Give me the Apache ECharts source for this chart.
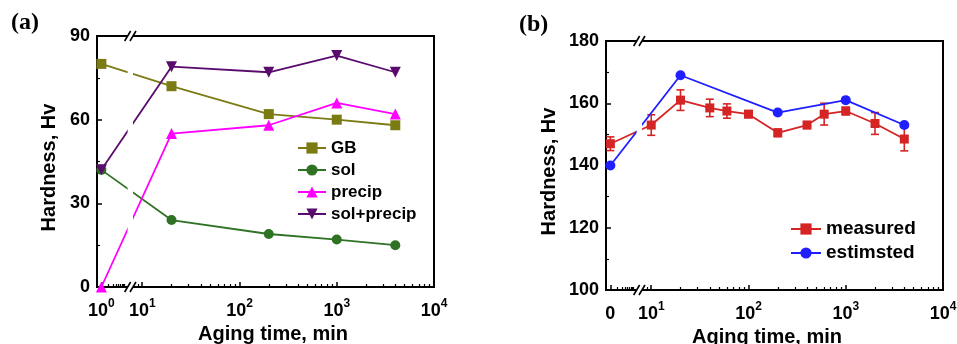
<!DOCTYPE html>
<html>
<head>
<meta charset="utf-8">
<script src="https://cdn.jsdelivr.net/npm/echarts@6/dist/echarts.min.js"></script>
<style>
  html, body { margin: 0; padding: 0; background: #fff; }
  #chart { width: 957px; height: 344px; }
</style>
</head>
<body>
<div id="chart"></div>
<script>
// ---- Panel (a): hardness contributions vs. aging time ----
const timesA = [1, 20, 200, 1000, 4000];
const gbA = [80, 72, 62, 60, 58];
const solA = [42, 24, 19, 17, 15];
const precipA = [0, 55, 58, 66, 62];
const solPrecipA = [42, 79, 77, 83, 77];

// ---- Panel (b): measured vs. estimated hardness ----
const timesMeasured = [0, 10, 20, 40, 60, 100, 200, 400, 600, 1000, 2000, 4000];
const measured = [147, 153, 161, 158.5, 157.5, 156.5, 150.5, 153, 156.5, 157.5, 153.5, 148.5];
const measuredErr = [2.2, 3.3, 3.3, 2.8, 2.3, 1.1, 1.2, 1.1, 3.5, 1.2, 3.5, 3.8];
const timesEstimated = [0, 20, 200, 1000, 4000];
const estimated = [140, 169, 157, 161, 153];

// ---- Tick labels ----
const xTickTimesA = [1, 10, 100, 1000, 10000];
const xTickLabelsA = ['10^0', '10^1', '10^2', '10^3', '10^4'];
const xTickTimesB = [0, 10, 100, 1000, 10000];
const xTickLabelsB = ['0', '10^1', '10^2', '10^3', '10^4'];

// ---- Broken log axis: a compressed first segment, then a regular log scale ----
const BREAK_AT = 8;          // times below this sit on the compressed left segment
const U_MIN = 0.535, U_MAX = 4;
const U_ANCHOR = 0.58;       // where the first point (t = 1 or t = 0) sits
const LEFT_SCALE = 0.25;     // decades are squeezed on the left segment
const GAP = [0.85, 0.905];   // the break in the axis

function toU(t) {
  if (t >= BREAK_AT) return Math.log10(t);
  return U_ANCHOR + LEFT_SCALE * (t > 0 ? Math.log10(t) : 0);
}

const minorTicksU = [];
for (let k = 2; k <= 9; k++) minorTicksU.push(U_ANCHOR + LEFT_SCALE * Math.log10(k));
for (let n = 0; n <= 3; n++) {
  for (let k = 2; k <= 9; k++) {
    const u = Math.log10(k * Math.pow(10, n));
    if (u > GAP[1] + 0.01) minorTicksU.push(u);
  }
}

const FONT = '"Liberation Sans", Arial, sans-serif';
const pairs = (ts, vs) => ts.map((t, i) => [toU(t), vs[i]]);

function richLabel(str) {
  const p = str.split('^');
  return p.length > 1 ? '{m|' + p[0] + '}{s|' + p[1] + '}' : '{m|' + p[0] + '}';
}

function xAxes(gridIndex, tickTimes, tickLabels, namePad, nameGap) {
  const majorU = tickTimes.map(toU);
  return [
    {
      type: 'value', gridIndex, position: 'bottom', min: U_MIN, max: U_MAX,
      axisLine: { show: false, onZero: false },
      splitLine: { show: false },
      axisTick: { show: true, inside: true, length: 5, customValues: majorU,
                  lineStyle: { color: '#000', width: 1.5 } },
      axisLabel: {
        customValues: majorU, margin: 11,
        formatter: (v) => {
          let best = 0;
          majorU.forEach((u, i) => { if (Math.abs(u - v) < Math.abs(majorU[best] - v)) best = i; });
          return richLabel(tickLabels[best]);
        },
        rich: {
          m: { fontFamily: FONT, fontWeight: 'bold', fontSize: 18, color: '#000', lineHeight: 22, verticalAlign: 'bottom' },
          s: { fontFamily: FONT, fontWeight: 'bold', fontSize: 12, color: '#000', lineHeight: 12, verticalAlign: 'top' }
        }
      },
      name: 'Aging time, min', nameLocation: 'middle', nameGap,
      nameTextStyle: { fontFamily: FONT, fontWeight: 'bold', fontSize: 20, color: '#000', padding: namePad }
    },
    {
      type: 'value', gridIndex, position: 'bottom', min: U_MIN, max: U_MAX,
      axisLine: { show: false, onZero: false },
      splitLine: { show: false },
      axisTick: { show: true, inside: true, length: 3, customValues: minorTicksU,
                  lineStyle: { color: '#000', width: 1.2 } },
      axisLabel: { show: false }
    }
  ];
}

function yAxis(gridIndex, min, max, interval, nameGap) {
  return {
    type: 'value', gridIndex, min, max, interval,
    axisLine: { show: false },
    splitLine: { show: false },
    axisTick: { show: true, inside: true, length: 5, lineStyle: { color: '#000', width: 1.5 } },
    minorTick: { show: true, splitNumber: 2, length: 3, lineStyle: { color: '#000', width: 1.2 } },
    axisLabel: { fontFamily: FONT, fontWeight: 'bold', fontSize: 18, color: '#000', margin: 7 },
    name: 'Hardness, Hv', nameLocation: 'middle', nameGap,
    nameTextStyle: { fontFamily: FONT, fontWeight: 'bold', fontSize: 20, color: '#000', padding: [0, 12, 0, 0] }
  };
}

// white strip plus "//" marks across the break of each panel
function breakMarks(xAxisIndex, yAxisIndex, yMin, yMax) {
  return {
    type: 'custom', xAxisIndex, yAxisIndex, z: 10, silent: true,
    data: [[GAP[0], yMin]],
    renderItem: (params, api) => {
      const a = api.coord([GAP[0], yMax]);
      const b = api.coord([GAP[1], yMin]);
      const children = [{
        type: 'rect',
        shape: { x: a[0], y: a[1] - 4, width: b[0] - a[0], height: b[1] - a[1] + 8 },
        style: { fill: '#fff' }
      }];
      [a[1], b[1]].forEach((y) => {
        [a[0], b[0]].forEach((x) => {
          children.push({ type: 'line', shape: { x1: x - 3, y1: y + 5, x2: x + 3, y2: y - 5 },
                          style: { stroke: '#000', lineWidth: 1.6 } });
        });
      });
      return { type: 'group', children };
    }
  };
}

function line(name, xi, yi, data, color, symbol, size) {
  return {
    name, type: 'line', xAxisIndex: xi, yAxisIndex: yi, data,
    symbol, symbolSize: size, showSymbol: true,
    lineStyle: { color, width: 1.8 },
    itemStyle: { color },
    z: 3
  };
}

const downTriangle = 'path://M0,0 L10,0 L5,9 Z';

const gridBase = { show: true, borderColor: '#000', borderWidth: 2, backgroundColor: 'transparent',
                   containLabel: false, outerBoundsMode: 'none' };

const option = {
  animation: false,
  backgroundColor: '#fff',
  grid: [
    Object.assign({ left: 97, top: 36, width: 337, height: 251 }, gridBase),
    Object.assign({ left: 606, top: 41, width: 337, height: 249 }, gridBase)
  ],
  xAxis: [
    ...xAxes(0, xTickTimesA, xTickLabelsA, [0, 0, 0, 15], 36),
    ...xAxes(1, xTickTimesB, xTickLabelsB, [0, 15, 0, 0], 30)
  ],
  yAxis: [yAxis(0, 0, 90, 30, 38), yAxis(1, 100, 180, 20, 47)],
  legend: [
    {
      data: ['GB', 'sol', 'precip', 'sol+precip'],
      orient: 'vertical', left: 297, top: 139, padding: 0,
      itemWidth: 28, itemHeight: 14, itemGap: 4,
      textStyle: { fontFamily: FONT, fontWeight: 'bold', fontSize: 17, lineHeight: 18, color: '#000' }
    },
    {
      data: ['measured', 'estimsted'],
      orient: 'vertical', left: 790, top: 219, padding: 0,
      itemWidth: 30, itemHeight: 14, itemGap: 4,
      textStyle: { fontFamily: FONT, fontWeight: 'bold', fontSize: 19, lineHeight: 20, color: '#000' }
    }
  ],
  graphic: [
    { type: 'text', left: 11, top: 11, style: { text: '(a)', font: 'bold 24px "Liberation Serif", "Times New Roman", serif', fill: '#000' } },
    { type: 'text', left: 519, top: 13, style: { text: '(b)', font: 'bold 24px "Liberation Serif", "Times New Roman", serif', fill: '#000' } }
  ],
  series: [
    line('GB', 0, 0, pairs(timesA, gbA), '#7b7b14', 'rect', 10),
    line('sol', 0, 0, pairs(timesA, solA), '#2f7224', 'circle', 10),
    line('precip', 0, 0, pairs(timesA, precipA), '#ff00ff', 'triangle', 11),
    line('sol+precip', 0, 0, pairs(timesA, solPrecipA), '#5a0b6e', downTriangle, 11),
    breakMarks(0, 0, 0, 90),
    {
      name: 'measured-err', type: 'custom', xAxisIndex: 2, yAxisIndex: 1, z: 2, silent: true,
      data: timesMeasured.map((t, i) => [toU(t), measured[i], measuredErr[i]]),
      renderItem: (params, api) => {
        const u = api.value(0), v = api.value(1), e = api.value(2);
        const hi = api.coord([u, v + e]);
        const lo = api.coord([u, v - e]);
        const w = 4;
        const st = { stroke: '#d42424', lineWidth: 1.6 };
        return { type: 'group', children: [
          { type: 'line', shape: { x1: hi[0], y1: hi[1], x2: lo[0], y2: lo[1] }, style: st },
          { type: 'line', shape: { x1: hi[0] - w, y1: hi[1], x2: hi[0] + w, y2: hi[1] }, style: st },
          { type: 'line', shape: { x1: lo[0] - w, y1: lo[1], x2: lo[0] + w, y2: lo[1] }, style: st }
        ] };
      }
    },
    line('measured', 2, 1, pairs(timesMeasured, measured), '#d42424', 'rect', 9),
    line('estimsted', 2, 1, pairs(timesEstimated, estimated), '#1f1fff', 'circle', 10),
    breakMarks(2, 1, 100, 180)
  ]
};

const chart = echarts.init(document.getElementById('chart'), null, { renderer: 'canvas' });
chart.setOption(option);
</script>
</body>
</html>
